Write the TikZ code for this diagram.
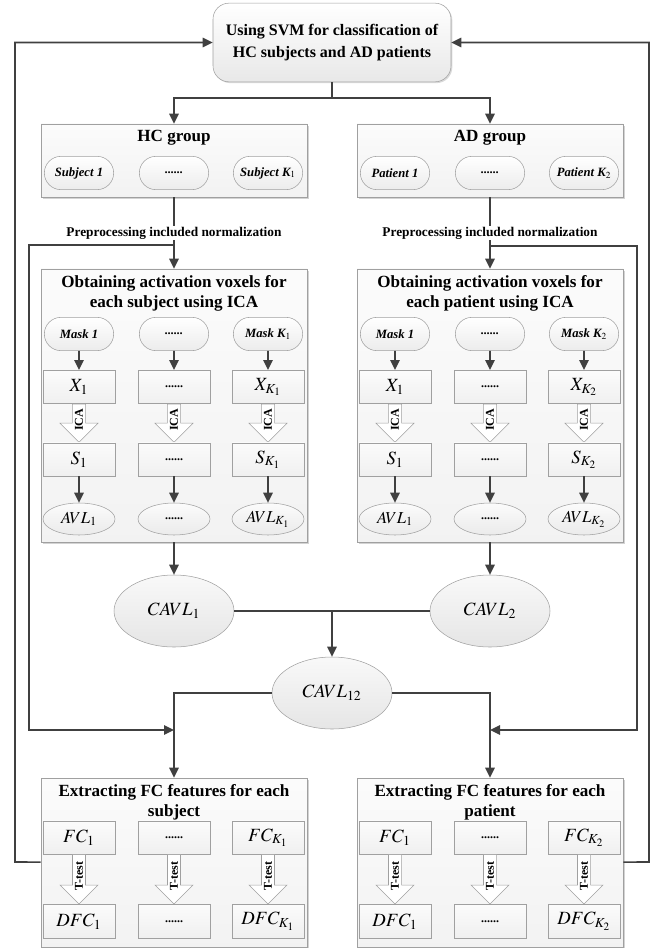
\documentclass[tikz,border=0pt]{standalone}
\usepackage{mathptmx}
\usepackage[no-math]{fontspec}
\setmainfont{Liberation Serif}
\usetikzlibrary{calc, positioning, fit}
\usetikzlibrary{arrows.meta}
\usetikzlibrary{shapes.geometric, shapes.misc, shapes.arrows}
\usetikzlibrary{shadows}

\definecolor{linegray}{HTML}{404040}
\definecolor{edgegray}{HTML}{A0A0A0}
\newcommand{\gapdots}{{\fontsize{9}{10}\selectfont\bfseries ......}}

\begin{document}
\begin{tikzpicture}[x=0.75pt, y=-0.75pt,
  conn/.style={draw=linegray, line width=1.2pt},
  arr/.style={conn, -{Triangle[length=7.5pt, width=7pt]}},
  topbox/.style={rectangle, rounded corners=12pt, draw=edgegray, top color=white, bottom color=gray!18,
    drop shadow={shadow xshift=1pt, shadow yshift=-1pt, opacity=0.3},
    minimum width=178.5pt, minimum height=59pt, align=center,
    font=\fontsize{12}{16.5}\selectfont\bfseries},
  groupbox/.style={rectangle, draw=edgegray, top color=gray!3, bottom color=gray!10, inner sep=0pt,
    drop shadow={shadow xshift=1.2pt, shadow yshift=-1.2pt, opacity=0.35}},
  title/.style={align=center, font=\fontsize{12.8}{15}\selectfont\bfseries},
  prep/.style={fill=white, inner sep=1pt, font=\fontsize{10}{11}\selectfont\bfseries},
  pill/.style={rounded rectangle, draw=edgegray, top color=white, bottom color=gray!15,
    minimum width=54pt, minimum height=25pt, inner sep=1pt,
    font=\fontsize{9.5}{11}\selectfont\bfseries\itshape},
  cell/.style={rectangle, draw=edgegray, top color=gray!3, bottom color=gray!12,
    minimum width=54pt, minimum height=25pt, inner sep=1pt, font=\fontsize{14}{16}\selectfont},
  oval/.style={ellipse, draw=edgegray, top color=gray!3, bottom color=gray!16,
    minimum width=54pt, minimum height=24pt, inner sep=0pt, font=\fontsize{12.5}{14}\selectfont},
  bigoval/.style={ellipse, draw=edgegray, top color=gray!5, bottom color=gray!20,
    minimum width=90pt, minimum height=54pt, font=\fontsize{14}{16}\selectfont},
  blockarr/.style={single arrow, draw=edgegray, fill=white, rotate=90, shape border rotate=180,
    single arrow head extend=9pt, single arrow tip angle=90, inner xsep=1pt, inner ysep=1.5pt,
    minimum width=28.5pt, font=\fontsize{9}{10}\selectfont\bfseries},
  icaarr/.style={blockarr, minimum height=28.5pt},
  testarr/.style={blockarr, minimum height=37pt}]
\useasboundingbox (0,0) rectangle (656,948);

\def\colLa{79}
\def\colLb{174}
\def\colLc{268}
\def\colRa{395}
\def\colRb{490}
\def\colRc{584}

% classifier on top
\node[topbox] (svm) at (332,42.5) {Using SVM for classification of\\HC subjects and AD patients};
\coordinate (split) at (332,98);

% the two groups
\node[groupbox, fit={(41,124) (307,197)}] (hcGroup) {};
\node[groupbox, fit={(357,124) (623,197)}] (adGroup) {};
\node[title] (hcTitle) at (174,138) {HC group};
\node[title] (adTitle) at (490,138) {AD group};
\node[pill] (subj1) at (\colLa,173) {Subject 1};
\node[pill] (subjDots) at (\colLb,173) {\gapdots};
\node[pill] (subjK) at (\colLc,173) {Subject K$_1$};
\node[pill] (pat1) at (\colRa,173) {Patient 1};
\node[pill] (patDots) at (\colRb,173) {\gapdots};
\node[pill] (patK) at (\colRc,173) {Patient K$_2$};

\draw[conn] (svm) -- (split);
\draw[arr] (split) -| (hcGroup);
\draw[arr] (split) -| (adGroup);

% ICA boxes
\node[groupbox, fit={(41,269) (307,542)}] (icaHC) {};
\node[groupbox, fit={(357,269) (623,542)}] (icaAD) {};
\node[title] (icaHCtitle) at (174,293) {Obtaining activation voxels for\\each subject using ICA};
\node[title] (icaADtitle) at (490,293) {Obtaining activation voxels for\\each patient using ICA};

\draw[arr] (hcGroup) -- node[prep] (prepL) {Preprocessing included normalization} (icaHC);
\draw[arr] (adGroup) -- node[prep] (prepR) {Preprocessing included normalization} (icaAD);

% HC columns
\node[pill] (maskL1) at (\colLa,334) {Mask 1};
\node[pill] (maskL2) at (\colLb,334) {\gapdots};
\node[pill] (maskL3) at (\colLc,334) {Mask K$_1$};
\node[cell] (xL1) at (\colLa,387) {$X_1$};
\node[cell] (xL2) at (\colLb,387) {\gapdots};
\node[cell] (xL3) at (\colLc,387) {$X_{K_1}$};
\node[icaarr, anchor=tail] (icaL1) at (xL1.south) {ICA};
\node[icaarr, anchor=tail] (icaL2) at (xL2.south) {ICA};
\node[icaarr, anchor=tail] (icaL3) at (xL3.south) {ICA};
\node[cell, below=0pt of icaL1.tip] (sL1) {$S_1$};
\node[cell, below=0pt of icaL2.tip] (sL2) {\gapdots};
\node[cell, below=0pt of icaL3.tip] (sL3) {$S_{K_1}$};
\node[oval] (avlL1) at (\colLa,519) {$AVL_1$};
\node[oval] (avlL2) at (\colLb,519) {\gapdots};
\node[oval] (avlL3) at (\colLc,519) {$AVL_{K_1}$};
\draw[arr] (maskL1) -- (xL1);
\draw[arr] (maskL2) -- (xL2);
\draw[arr] (maskL3) -- (xL3);
\draw[arr] (sL1) -- (avlL1);
\draw[arr] (sL2) -- (avlL2);
\draw[arr] (sL3) -- (avlL3);

% AD columns
\node[pill] (maskR1) at (\colRa,334) {Mask 1};
\node[pill] (maskR2) at (\colRb,334) {\gapdots};
\node[pill] (maskR3) at (\colRc,334) {Mask K$_2$};
\node[cell] (xR1) at (\colRa,387) {$X_1$};
\node[cell] (xR2) at (\colRb,387) {\gapdots};
\node[cell] (xR3) at (\colRc,387) {$X_{K_2}$};
\node[icaarr, anchor=tail] (icaR1) at (xR1.south) {ICA};
\node[icaarr, anchor=tail] (icaR2) at (xR2.south) {ICA};
\node[icaarr, anchor=tail] (icaR3) at (xR3.south) {ICA};
\node[cell, below=0pt of icaR1.tip] (sR1) {$S_1$};
\node[cell, below=0pt of icaR2.tip] (sR2) {\gapdots};
\node[cell, below=0pt of icaR3.tip] (sR3) {$S_{K_2}$};
\node[oval] (avlR1) at (\colRa,519) {$AVL_1$};
\node[oval] (avlR2) at (\colRb,519) {\gapdots};
\node[oval] (avlR3) at (\colRc,519) {$AVL_{K_2}$};
\draw[arr] (maskR1) -- (xR1);
\draw[arr] (maskR2) -- (xR2);
\draw[arr] (maskR3) -- (xR3);
\draw[arr] (sR1) -- (avlR1);
\draw[arr] (sR2) -- (avlR2);
\draw[arr] (sR3) -- (avlR3);

% common activation voxels
\node[bigoval] (cavlA) at (174,611) {$CAVL_1$};
\node[bigoval] (cavlB) at (490,611) {$CAVL_2$};
\node[bigoval] (cavlC) at (332,693) {$CAVL_{12}$};
\coordinate (merge) at (332,611);
\draw[arr] (icaHC) -- (cavlA);
\draw[arr] (icaAD) -- (cavlB);
\draw[conn] (cavlA) -- (cavlB);
\draw[arr] (merge) -- (cavlC);

% FC boxes
\node[groupbox, fit={(41,778) (307,947)}] (fcHC) {};
\node[groupbox, fit={(357,778) (623,947)}] (fcAD) {};
\node[title] (fcHCtitle) at (174,802) {Extracting FC features for each\\subject};
\node[title] (fcADtitle) at (490,802) {Extracting FC features for each\\patient};
\draw[arr] (cavlC) -| (fcHC);
\draw[arr] (cavlC) -| (fcAD);

\node[cell] (fcL1) at (\colLa,837.5) {$FC_1$};
\node[cell] (fcL2) at (\colLb,837.5) {\gapdots};
\node[cell] (fcL3) at (\colLc,837.5) {$FC_{K_1}$};
\node[testarr, anchor=tail] (ttL1) at (fcL1.south) {T-test};
\node[testarr, anchor=tail] (ttL2) at (fcL2.south) {T-test};
\node[testarr, anchor=tail] (ttL3) at (fcL3.south) {T-test};
\node[cell, below=0pt of ttL1.tip] (dfcL1) {$DFC_1$};
\node[cell, below=0pt of ttL2.tip] (dfcL2) {\gapdots};
\node[cell, below=0pt of ttL3.tip] (dfcL3) {$DFC_{K_1}$};

\node[cell] (fcR1) at (\colRa,837.5) {$FC_1$};
\node[cell] (fcR2) at (\colRb,837.5) {\gapdots};
\node[cell] (fcR3) at (\colRc,837.5) {$FC_{K_2}$};
\node[testarr, anchor=tail] (ttR1) at (fcR1.south) {T-test};
\node[testarr, anchor=tail] (ttR2) at (fcR2.south) {T-test};
\node[testarr, anchor=tail] (ttR3) at (fcR3.south) {T-test};
\node[cell, below=0pt of ttR1.tip] (dfcR1) {$DFC_1$};
\node[cell, below=0pt of ttR2.tip] (dfcR2) {\gapdots};
\node[cell, below=0pt of ttR3.tip] (dfcR3) {$DFC_{K_2}$};

% loops from preprocessing down to FC extraction
\coordinate (tapL) at (174,245);
\coordinate (sideL) at (29,730);
\coordinate (joinL) at (174,730);
\coordinate (tapR) at (490,246);
\coordinate (sideR) at (637,730);
\coordinate (joinR) at (490,730);
\draw[arr] (tapL) -| (sideL) -- (joinL);
\draw[arr] (tapR) -| (sideR) -- (joinR);

% features back to the classifier
\coordinate (outL) at (15,862);
\coordinate (outR) at (649,862);
\draw[arr] (fcHC) -- (outL) |- (svm);
\draw[arr] (fcAD) -- (outR) |- (svm);
\end{tikzpicture}
\end{document}
